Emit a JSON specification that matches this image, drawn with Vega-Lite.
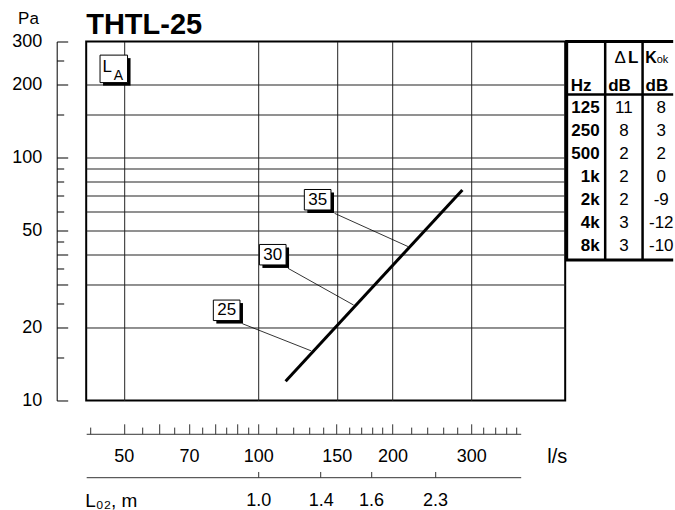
{
  "$schema": "https://vega.github.io/schema/vega-lite/v6.json",
  "autosize": {"type": "pad"},
  "padding": {"left": 10.2, "top": 8.5, "right": 0, "bottom": 0},
  "background": "white",
  "config": {
    "font": "Liberation Sans",
    "view": {"stroke": null},
    "axis": {"labelColor": "black", "titleColor": "black", "domainColor": "black", "tickColor": "black", "labelFont": "Liberation Sans", "titleFont": "Liberation Sans"},
    "title": {"font": "Liberation Sans", "color": "black"}
  },
  "datasets": {
    "line": [{"q": 115.2, "p": 12.0}, {"q": 286.6, "p": 73.5}],
    "leaders": [
      {"lvl": "35", "q": 148.3, "p": 58.9, "q2": 216.5, "p2": 43.0},
      {"lvl": "30", "q": 116.6, "p": 35.0, "q2": 163.6, "p2": 24.7},
      {"lvl": "25", "q": 92.2, "p": 20.7, "q2": 131.5, "p2": 16.0}
    ],
    "boxes": [
      {"lvl": "35", "q": 135.9, "p": 67.0},
      {"lvl": "30", "q": 107.8, "p": 39.8},
      {"lvl": "25", "q": 85.0, "p": 23.5}
    ],
    "la": [{"q": 47.5, "p": 231.5, "main": "L", "sub": "A"}],
    "table": [
      {"hz": "125", "dl": "11", "k": "8", "r": 1},
      {"hz": "250", "dl": "8", "k": "3", "r": 2},
      {"hz": "500", "dl": "2", "k": "2", "r": 3},
      {"hz": "1k", "dl": "2", "k": "0", "r": 4},
      {"hz": "2k", "dl": "2", "k": "-9", "r": 5},
      {"hz": "4k", "dl": "3", "k": "-12", "r": 6},
      {"hz": "8k", "dl": "3", "k": "-10", "r": 7}
    ],
    "hdr": [{"t": "Hz", "c": 0, "r": 0}, {"t": "dB", "c": 1, "r": 0}, {"t": "dB", "c": 2, "r": 0}],
    "vlines": [{"c": -0.03, "w": "outer"}, {"c": 1, "w": "inner"}, {"c": 2, "w": "inner"}],
    "hlines": [{"r": -1.87, "w": "outer"}, {"r": 7.63, "w": "outer"}, {"r": 0.43, "w": "inner"}],
    "ruler": [{"q": 41.2}, {"q": 388}]
  },
  "columns": 2,
  "bounds": "flush",
  "spacing": {"row": 33.3, "column": 0},
  "resolve": {"scale": {"x": "independent", "y": "independent"}},
  "concat": [
    {
      "width": 479,
      "height": 359,
      "title": {"text": "THTL-25", "anchor": "start", "frame": "group", "fontSize": 29, "fontWeight": "bold", "baseline": "alphabetic", "offset": -24.5, "dy": 28.5},
      "view": {"stroke": "black", "strokeWidth": 2},
      "resolve": {"axis": {"x": "independent", "y": "independent"}},
      "layer": [
        {
          "data": {"name": "line"},
          "mark": {"type": "line", "color": "black", "strokeWidth": 3},
          "encoding": {
            "x": {"field": "q", "type": "quantitative", "scale": {"type": "log", "domain": [41.2, 487], "nice": false},
              "axis": {"orient": "bottom", "grid": true, "values": [50, 100, 150, 200, 300], "gridColor": "#222", "gridWidth": 1, "gridOpacity": 1, "domain": false, "ticks": false, "labels": false, "title": null}},
            "y": {"field": "p", "type": "quantitative", "scale": {"type": "log", "domain": [10, 300], "nice": false},
              "axis": {"orient": "left", "grid": true, "values": [20, 30, 40, 50, 60, 70, 80, 90, 100, 150, 200], "gridColor": "#222", "gridWidth": 1, "gridOpacity": 1, "domain": false, "ticks": false, "labels": false, "title": null}}
          }
        },
        {
          "data": {"name": "leaders"},
          "mark": {"type": "rule", "color": "black", "strokeWidth": 0.8},
          "encoding": {
            "x": {"field": "q", "type": "quantitative", "scale": {"type": "log", "domain": [41.2, 487], "nice": false},
              "axis": {"orient": "bottom", "offset": 56, "values": [50, 70, 100, 150, 200, 300], "grid": false, "domain": false, "ticks": false, "tickSize": 0, "labelPadding": 0, "labelBaseline": "middle", "labelFontSize": 18, "labelFlush": false, "labelOverlap": false, "format": "d",
                "title": "l/s", "titleFontSize": 20, "titleFontWeight": "normal", "titleX": 470.5, "titleY": 0, "titleAlign": "center", "titleBaseline": "middle"}},
            "y": {"field": "p", "type": "quantitative", "scale": {"type": "log", "domain": [10, 300], "nice": false},
              "axis": {"orient": "left", "offset": 29.5, "values": [10, 20, 30, 40, 50, 100, 200, 300], "grid": false, "domain": true, "domainWidth": 1, "ticks": true, "tickSize": -11, "tickWidth": 1, "labels": false, "title": null}},
            "x2": {"field": "q2"},
            "y2": {"field": "p2"}
          }
        },
        {
          "data": {"name": "boxes"},
          "mark": {"type": "point", "shape": "M-1.3,-1H1.3V1H-1.3Z", "size": 420, "filled": true, "fill": "black", "strokeWidth": 0, "opacity": 1, "xOffset": 3, "yOffset": 3},
          "encoding": {
            "x": {"field": "q", "type": "quantitative", "scale": {"type": "log", "domain": [41.2, 487], "nice": false},
              "axis": {"orient": "bottom", "offset": 100, "values": [100, 138, 179, 249], "grid": false, "domain": false, "ticks": false, "tickSize": 0, "labelPadding": 0, "labelBaseline": "middle", "labelFontSize": 18, "labelFlush": false, "labelOverlap": false,
                "labelExpr": "datum.value < 120 ? '1.0' : datum.value < 160 ? '1.4' : datum.value < 220 ? '1.6' : '2.3'",
                "title": "L₀₂, m", "titleFontSize": 19, "titleFontWeight": "normal", "titleX": -1.5, "titleY": 0, "titleAlign": "left", "titleBaseline": "middle"}},
            "y": {"field": "p", "type": "quantitative", "scale": {"type": "log", "domain": [10, 300], "nice": false},
              "axis": {"orient": "left", "offset": 29.5, "values": [15, 25, 35, 45, 60, 70, 80, 90, 150, 250], "grid": false, "domain": false, "ticks": true, "tickSize": -7, "tickWidth": 1, "labels": false, "title": null}}
          }
        },
        {
          "data": {"name": "boxes"},
          "mark": {"type": "point", "shape": "M-1.3,-1H1.3V1H-1.3Z", "size": 420, "filled": true, "fill": "white", "stroke": "black", "strokeWidth": 1, "opacity": 1},
          "encoding": {
            "x": {"field": "q", "type": "quantitative", "scale": {"type": "log", "domain": [41.2, 487], "nice": false}, "axis": null},
            "y": {"field": "p", "type": "quantitative", "scale": {"type": "log", "domain": [10, 300], "nice": false},
              "axis": {"orient": "left", "offset": 29.5, "values": [10, 20, 50, 100, 200, 300], "grid": false, "domain": false, "ticks": false, "tickSize": 0, "labelPadding": 15, "labelFontSize": 18, "labelFlush": false, "labelOverlap": false, "format": "d",
                "title": "Pa", "titleAngle": 0, "titleFontSize": 17, "titleFontWeight": "normal", "titleX": -28.7, "titleY": -23, "titleAlign": "center", "titleBaseline": "middle"}}
          }
        },
        {
          "data": {"name": "boxes"},
          "mark": {"type": "text", "fontSize": 17, "color": "black", "align": "center", "baseline": "middle"},
          "encoding": {
            "x": {"field": "q", "type": "quantitative", "scale": {"type": "log", "domain": [41.2, 487], "nice": false}, "axis": null},
            "y": {"field": "p", "type": "quantitative", "scale": {"type": "log", "domain": [10, 300], "nice": false}, "axis": null},
            "text": {"field": "lvl"}
          }
        },
        {
          "data": {"name": "la"},
          "mark": {"type": "point", "shape": "square", "size": 756, "filled": true, "fill": "black", "strokeWidth": 0, "opacity": 1, "xOffset": 3, "yOffset": 3},
          "encoding": {
            "x": {"field": "q", "type": "quantitative", "scale": {"type": "log", "domain": [41.2, 487], "nice": false}, "axis": null},
            "y": {"field": "p", "type": "quantitative", "scale": {"type": "log", "domain": [10, 300], "nice": false}, "axis": null}
          }
        },
        {
          "data": {"name": "la"},
          "mark": {"type": "point", "shape": "square", "size": 756, "filled": true, "fill": "white", "stroke": "black", "strokeWidth": 1, "opacity": 1},
          "encoding": {
            "x": {"field": "q", "type": "quantitative", "scale": {"type": "log", "domain": [41.2, 487], "nice": false}, "axis": null},
            "y": {"field": "p", "type": "quantitative", "scale": {"type": "log", "domain": [10, 300], "nice": false}, "axis": null}
          }
        },
        {
          "data": {"name": "la"},
          "mark": {"type": "text", "fontSize": 17, "color": "black", "align": "center", "baseline": "middle", "dx": -6.5, "dy": -2},
          "encoding": {
            "x": {"field": "q", "type": "quantitative", "scale": {"type": "log", "domain": [41.2, 487], "nice": false}, "axis": null},
            "y": {"field": "p", "type": "quantitative", "scale": {"type": "log", "domain": [10, 300], "nice": false}, "axis": null},
            "text": {"field": "main"}
          }
        },
        {
          "data": {"name": "la"},
          "mark": {"type": "text", "fontSize": 14, "color": "black", "align": "center", "baseline": "middle", "dx": 4.7, "dy": 7},
          "encoding": {
            "x": {"field": "q", "type": "quantitative", "scale": {"type": "log", "domain": [41.2, 487], "nice": false}, "axis": null},
            "y": {"field": "p", "type": "quantitative", "scale": {"type": "log", "domain": [10, 300], "nice": false}, "axis": null},
            "text": {"field": "sub"}
          }
        }
      ]
    },
    {
      "width": 108,
      "height": 218.5,
      "layer": [
        {"data": {"name": "vlines"},
          "mark": {"type": "rule", "color": "black"},
          "encoding": {
            "x": {"field": "c", "type": "quantitative", "scale": {"type": "linear", "domain": [-0.07, 2.819], "nice": false, "zero": false}, "axis": null},
            "y": {"datum": -1.87, "type": "quantitative", "scale": {"type": "linear", "domain": [-1.87, 7.63], "nice": false, "zero": false, "reverse": true}, "axis": null},
            "y2": {"datum": 7.63},
            "strokeWidth": {"field": "w", "type": "nominal", "scale": {"domain": ["outer", "inner"], "range": [3, 2.5]}, "legend": null}}},
        {"data": {"name": "hlines"},
          "mark": {"type": "rule", "color": "black"},
          "encoding": {
            "x": {"datum": -0.07, "type": "quantitative", "scale": {"type": "linear", "domain": [-0.07, 2.819], "nice": false, "zero": false}, "axis": null},
            "x2": {"datum": 2.819},
            "y": {"field": "r", "type": "quantitative", "scale": {"type": "linear", "domain": [-1.87, 7.63], "nice": false, "zero": false, "reverse": true}, "axis": null},
            "strokeWidth": {"field": "w", "type": "nominal", "scale": {"domain": ["outer", "inner"], "range": [3, 2]}, "legend": null}}},
        {"data": {"name": "table"},
          "mark": {"type": "text", "fontSize": 17, "fontWeight": "bold", "align": "right", "baseline": "middle", "dx": -5.5, "color": "black"},
          "encoding": {
            "x": {"datum": 1, "type": "quantitative", "scale": {"type": "linear", "domain": [-0.07, 2.819], "nice": false, "zero": false}, "axis": null},
            "y": {"field": "r", "type": "quantitative", "scale": {"type": "linear", "domain": [-1.87, 7.63], "nice": false, "zero": false, "reverse": true}, "axis": null},
            "text": {"field": "hz"}}},
        {"data": {"name": "table"},
          "mark": {"type": "text", "fontSize": 17, "align": "center", "baseline": "middle", "color": "black"},
          "encoding": {
            "x": {"datum": 1.5, "type": "quantitative", "scale": {"type": "linear", "domain": [-0.07, 2.819], "nice": false, "zero": false}, "axis": null},
            "y": {"field": "r", "type": "quantitative", "scale": {"type": "linear", "domain": [-1.87, 7.63], "nice": false, "zero": false, "reverse": true}, "axis": null},
            "text": {"field": "dl"}}},
        {"data": {"name": "table"},
          "mark": {"type": "text", "fontSize": 17, "align": "center", "baseline": "middle", "color": "black"},
          "encoding": {
            "x": {"datum": 2.5, "type": "quantitative", "scale": {"type": "linear", "domain": [-0.07, 2.819], "nice": false, "zero": false}, "axis": null},
            "y": {"field": "r", "type": "quantitative", "scale": {"type": "linear", "domain": [-1.87, 7.63], "nice": false, "zero": false, "reverse": true}, "axis": null},
            "text": {"field": "k"}}},
        {"data": {"name": "hdr"},
          "mark": {"type": "text", "fontSize": 17, "fontWeight": "bold", "align": "left", "baseline": "middle", "dx": 3, "dy": 1, "color": "black"},
          "encoding": {
            "x": {"field": "c", "type": "quantitative", "scale": {"type": "linear", "domain": [-0.07, 2.819], "nice": false, "zero": false}, "axis": null},
            "y": {"field": "r", "type": "quantitative", "scale": {"type": "linear", "domain": [-1.87, 7.63], "nice": false, "zero": false, "reverse": true}, "axis": null},
            "text": {"field": "t"}}},
        {"data": {"values": [{"t": "Δ"}]},
          "mark": {"type": "text", "fontSize": 17, "align": "right", "baseline": "alphabetic", "dx": 2, "dy": 1, "color": "black"},
          "encoding": {
            "x": {"datum": 1.5, "type": "quantitative", "scale": {"type": "linear", "domain": [-0.07, 2.819], "nice": false, "zero": false}, "axis": null},
            "y": {"datum": -1, "type": "quantitative", "scale": {"type": "linear", "domain": [-1.87, 7.63], "nice": false, "zero": false, "reverse": true}, "axis": null},
            "text": {"field": "t"}}},
        {"data": {"values": [{"t": "L"}]},
          "mark": {"type": "text", "fontSize": 17, "fontWeight": "bold", "align": "left", "baseline": "alphabetic", "dx": 4, "dy": 1, "color": "black"},
          "encoding": {
            "x": {"datum": 1.5, "type": "quantitative", "scale": {"type": "linear", "domain": [-0.07, 2.819], "nice": false, "zero": false}, "axis": null},
            "y": {"datum": -1, "type": "quantitative", "scale": {"type": "linear", "domain": [-1.87, 7.63], "nice": false, "zero": false, "reverse": true}, "axis": null},
            "text": {"field": "t"}}},
        {"data": {"values": [{"t": "K"}]},
          "mark": {"type": "text", "fontSize": 16, "fontWeight": "bold", "align": "right", "baseline": "alphabetic", "dx": -4.5, "dy": 1, "color": "black"},
          "encoding": {
            "x": {"datum": 2.5, "type": "quantitative", "scale": {"type": "linear", "domain": [-0.07, 2.819], "nice": false, "zero": false}, "axis": null},
            "y": {"datum": -1, "type": "quantitative", "scale": {"type": "linear", "domain": [-1.87, 7.63], "nice": false, "zero": false, "reverse": true}, "axis": null},
            "text": {"field": "t"}}},
        {"data": {"values": [{"t": "ok"}]},
          "mark": {"type": "text", "fontSize": 11, "align": "left", "baseline": "alphabetic", "dx": -4.5, "dy": 1, "color": "black"},
          "encoding": {
            "x": {"datum": 2.5, "type": "quantitative", "scale": {"type": "linear", "domain": [-0.07, 2.819], "nice": false, "zero": false}, "axis": null},
            "y": {"datum": -1, "type": "quantitative", "scale": {"type": "linear", "domain": [-1.87, 7.63], "nice": false, "zero": false, "reverse": true}, "axis": null},
            "text": {"field": "t"}}}
      ]
    },
    {
      "width": 434.5,
      "height": 43.4,
      "data": {"name": "ruler"},
      "resolve": {"axis": {"x": "independent"}},
      "layer": [
        {"mark": {"type": "point", "opacity": 0},
          "encoding": {
            "x": {"field": "q", "type": "quantitative", "scale": {"type": "log", "domain": [41.2, 388], "nice": false},
              "axis": {"orient": "top", "values": [50, 60, 70, 80, 90, 100, 150, 200, 300], "domain": true, "domainColor": "#333", "ticks": true, "tickSize": 10, "tickColor": "#333", "labels": false, "grid": false, "title": null}},
            "y": {"datum": 0.5, "type": "quantitative", "scale": {"domain": [0, 1]}, "axis": null}}},
        {"mark": {"type": "point", "opacity": 0},
          "encoding": {
            "x": {"field": "q", "type": "quantitative", "scale": {"type": "log", "domain": [41.2, 388], "nice": false},
              "axis": {"orient": "top", "values": [42, 55, 65, 75, 85, 95, 110, 120, 130, 140, 160, 170, 180, 190, 220, 240, 260, 280, 320, 340, 360, 380], "domain": false, "ticks": true, "tickSize": 6.7, "tickColor": "#333", "labels": false, "grid": false, "title": null}},
            "y": {"datum": 0.5, "type": "quantitative", "scale": {"domain": [0, 1]}, "axis": null}}},
        {"mark": {"type": "point", "opacity": 0},
          "encoding": {
            "x": {"field": "q", "type": "quantitative", "scale": {"type": "log", "domain": [41.2, 388], "nice": false},
              "axis": {"orient": "bottom", "values": [100, 138, 179, 249], "domain": true, "domainColor": "#333", "ticks": true, "tickSize": -5.7, "tickColor": "#333", "labels": false, "grid": false, "title": null}},
            "y": {"datum": 0.5, "type": "quantitative", "scale": {"domain": [0, 1]}, "axis": null}}}
      ]
    }
  ]
}
